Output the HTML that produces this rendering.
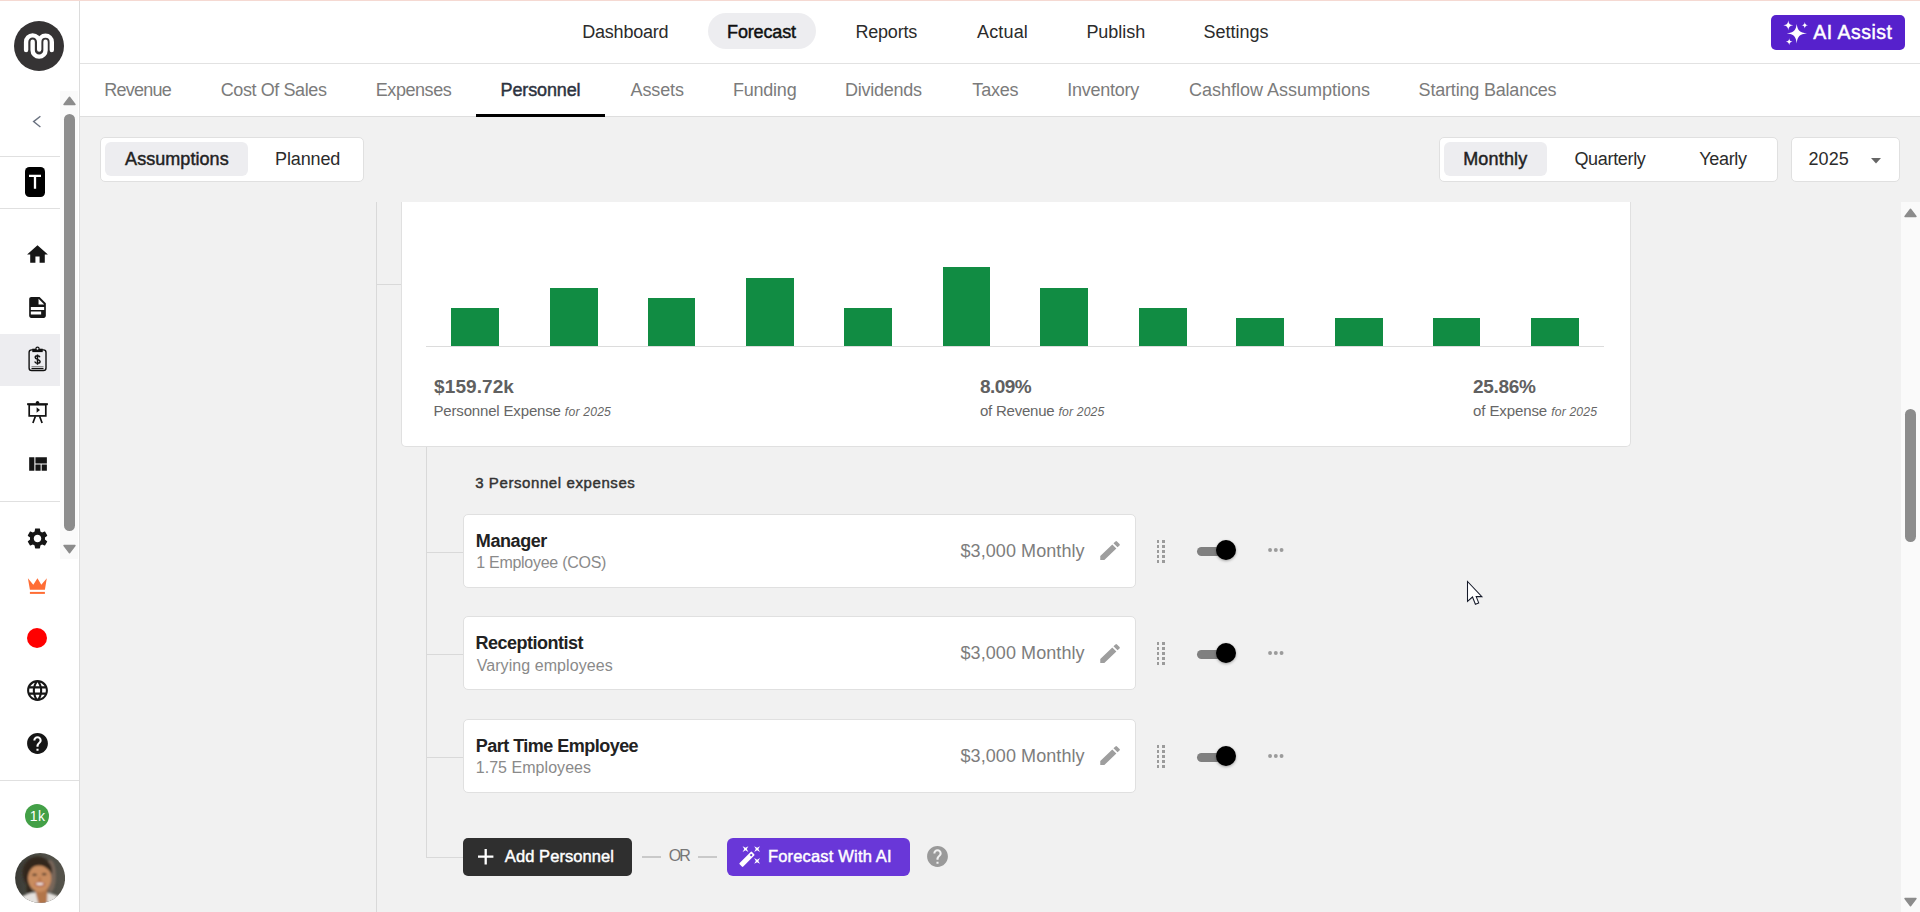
<!DOCTYPE html>
<html lang="en">
<head>
<meta charset="utf-8">
<title>Forecast - Personnel</title>
<style>
*{box-sizing:border-box;margin:0;padding:0}
html,body{width:1920px;height:912px;overflow:hidden;background:#f1f1f1;font-family:"Liberation Sans",sans-serif}
.a{position:absolute}
.t{position:absolute;white-space:pre;font-family:"Liberation Sans",sans-serif}
#page{position:relative;width:1920px;height:912px;overflow:hidden;background:#f1f1f1}
.ln{position:absolute;background:#d9d9d9}
.card{position:absolute;background:#fff;border:1px solid #e0e0e0;border-radius:5px}
.pill{position:absolute;background:#ededf0;border-radius:6px}
.bar{position:absolute;background:#118c43}
.dot{position:absolute;background:#9b9b9b}
</style>
</head>
<body>
<div id="page">

<!-- ===== top nav ===== -->
<div class="a" style="left:80px;top:0;width:1840px;height:63px;background:#fff"></div>
<div class="a" style="left:80px;top:63px;width:1840px;height:1px;background:#e2e2e2"></div>
<div class="a" style="left:80px;top:64px;width:1840px;height:52px;background:#fff"></div>
<div class="a" style="left:80px;top:116px;width:1840px;height:1px;background:#dedede"></div>
<div class="a" style="left:0;top:0;width:1920px;height:1px;background:#f5d9d2"></div>
<!-- forecast pill -->
<div class="a" style="left:708px;top:13px;width:108px;height:36px;border-radius:18px;background:#ededf0"></div>
<!-- AI assist button -->
<div class="a" style="left:1771px;top:15px;width:134px;height:35px;border-radius:5px;background:#5621cc"></div>
<svg class="a" style="left:1780px;top:17px" width="32" height="32" viewBox="0 0 32 32">
  <g fill="#fff">
  <path d="M16.7 6.9 C17.5 13 19.5 15.4 27 16.3 C19.5 17.2 17.5 19.6 16.7 26.5 C15.9 19.6 13.9 17.2 6.7 16.3 C13.9 15.4 15.9 13 16.7 6.9Z"/>
  <path d="M8.3 3.2 C8.7 6.6 9.8 7.8 13.3 8.3 C9.8 8.8 8.7 10 8.3 13.4 C7.9 10 6.8 8.8 3.3 8.3 C6.8 7.8 7.9 6.6 8.3 3.2Z"/>
  <path d="M24.8 5 C25.1 7.2 25.8 8 28.1 8.3 C25.8 8.6 25.1 9.4 24.8 11.6 C24.5 9.4 23.8 8.6 21.5 8.3 C23.8 8 24.5 7.2 24.8 5Z"/>
  <path d="M9.2 21.3 C9.5 23.6 10.2 24.4 12.6 24.7 C10.2 25 9.5 25.8 9.2 28.1 C8.9 25.8 8.2 25 5.8 24.7 C8.2 24.4 8.9 23.6 9.2 21.3Z"/>
  </g>
</svg>
<!-- personnel underline -->
<div class="a" style="left:476px;top:114px;width:129px;height:3px;background:#000"></div>

<!-- ===== toolbar ===== -->
<div class="card" style="left:100px;top:137px;width:264px;height:45px"></div>
<div class="pill" style="left:105px;top:142px;width:143px;height:34px"></div>
<div class="card" style="left:1439px;top:137px;width:339px;height:45px"></div>
<div class="pill" style="left:1444px;top:142px;width:103px;height:34px"></div>
<div class="card" style="left:1791px;top:137px;width:109px;height:45px"></div>
<svg class="a" style="left:1871px;top:157.5px" width="10" height="6" viewBox="0 0 10 6"><path d="M0 0H10L5 5.5Z" fill="#666"/></svg>

<!-- ===== tree lines ===== -->
<div class="ln" style="left:376px;top:202px;width:1px;height:710px"></div>
<div class="ln" style="left:376px;top:284px;width:25px;height:1px"></div>
<div class="ln" style="left:426px;top:447px;width:1px;height:411px"></div>
<div class="ln" style="left:426px;top:552px;width:37px;height:1px"></div>
<div class="ln" style="left:426px;top:654px;width:37px;height:1px"></div>
<div class="ln" style="left:426px;top:757px;width:37px;height:1px"></div>
<div class="ln" style="left:426px;top:857px;width:37px;height:1px"></div>

<!-- ===== chart card ===== -->
<div class="a" style="left:401px;top:202px;width:1230px;height:245px;background:#fff;border:1px solid #e0e0e0;border-top:none;border-radius:0 0 5px 5px"></div>
<div class="a" style="left:426px;top:346px;width:1178px;height:1px;background:#dcdcdc"></div>
<div class="bar" style="left:451.25px;top:308px;width:47.8px;height:38px"></div>
<div class="bar" style="left:550px;top:288px;width:47.8px;height:58px"></div>
<div class="bar" style="left:647.5px;top:298px;width:47.8px;height:48px"></div>
<div class="bar" style="left:746.25px;top:278px;width:47.8px;height:68px"></div>
<div class="bar" style="left:843.75px;top:308px;width:47.8px;height:38px"></div>
<div class="bar" style="left:942.5px;top:267px;width:47.8px;height:79px"></div>
<div class="bar" style="left:1040px;top:288px;width:47.8px;height:58px"></div>
<div class="bar" style="left:1138.75px;top:308px;width:47.8px;height:38px"></div>
<div class="bar" style="left:1236.25px;top:318px;width:47.8px;height:28px"></div>
<div class="bar" style="left:1335px;top:318px;width:47.8px;height:28px"></div>
<div class="bar" style="left:1432.5px;top:318px;width:47.8px;height:28px"></div>
<div class="bar" style="left:1531.25px;top:318px;width:47.8px;height:28px"></div>

<!-- ===== rows ===== -->
<div class="card" style="left:463px;top:513.5px;width:673px;height:74px"></div>
<svg class="a" style="left:1096.54px;top:537.80px" width="26.1" height="25.2" viewBox="0 0 24 24" preserveAspectRatio="none"><path d="M3 17.25V21h3.75L17.81 9.94l-3.75-3.75L3 17.25zM20.71 7.04a.996.996 0 0 0 0-1.41l-2.34-2.34a.996.996 0 0 0-1.41 0l-1.83 1.83 3.75 3.75 1.83-1.83z" fill="#9e9e9e"/></svg>
<div class="dot" style="left:1156.7px;top:540.20px;width:2.4px;height:2.4px"></div>
<div class="dot" style="left:1162.2px;top:540.20px;width:2.4px;height:2.4px"></div>
<div class="dot" style="left:1156.7px;top:545.23px;width:2.4px;height:2.4px"></div>
<div class="dot" style="left:1162.2px;top:545.23px;width:2.4px;height:2.4px"></div>
<div class="dot" style="left:1156.7px;top:550.26px;width:2.4px;height:2.4px"></div>
<div class="dot" style="left:1162.2px;top:550.26px;width:2.4px;height:2.4px"></div>
<div class="dot" style="left:1156.7px;top:555.29px;width:2.4px;height:2.4px"></div>
<div class="dot" style="left:1162.2px;top:555.29px;width:2.4px;height:2.4px"></div>
<div class="dot" style="left:1156.7px;top:560.32px;width:2.4px;height:2.4px"></div>
<div class="dot" style="left:1162.2px;top:560.32px;width:2.4px;height:2.4px"></div>
<div class="a" style="left:1197px;top:547.00px;width:36px;height:9px;border-radius:5px;background:#808080"></div>
<div class="a" style="left:1216px;top:539.90px;width:20.2px;height:20.2px;border-radius:50%;background:#000;box-shadow:0 1px 3px rgba(0,0,0,.35)"></div>
<svg class="a" style="left:1266px;top:546.40px" width="20" height="8" viewBox="0 0 20 8"><circle cx="4.05" cy="4" r="1.95" fill="#9b9b9b"/><circle cx="9.8" cy="4" r="1.95" fill="#9b9b9b"/><circle cx="15.55" cy="4" r="1.95" fill="#9b9b9b"/></svg>
<div class="card" style="left:463px;top:616px;width:673px;height:74px"></div>
<svg class="a" style="left:1096.54px;top:640.80px" width="26.1" height="25.2" viewBox="0 0 24 24" preserveAspectRatio="none"><path d="M3 17.25V21h3.75L17.81 9.94l-3.75-3.75L3 17.25zM20.71 7.04a.996.996 0 0 0 0-1.41l-2.34-2.34a.996.996 0 0 0-1.41 0l-1.83 1.83 3.75 3.75 1.83-1.83z" fill="#9e9e9e"/></svg>
<div class="dot" style="left:1156.7px;top:642.30px;width:2.4px;height:2.4px"></div>
<div class="dot" style="left:1162.2px;top:642.30px;width:2.4px;height:2.4px"></div>
<div class="dot" style="left:1156.7px;top:647.33px;width:2.4px;height:2.4px"></div>
<div class="dot" style="left:1162.2px;top:647.33px;width:2.4px;height:2.4px"></div>
<div class="dot" style="left:1156.7px;top:652.36px;width:2.4px;height:2.4px"></div>
<div class="dot" style="left:1162.2px;top:652.36px;width:2.4px;height:2.4px"></div>
<div class="dot" style="left:1156.7px;top:657.39px;width:2.4px;height:2.4px"></div>
<div class="dot" style="left:1162.2px;top:657.39px;width:2.4px;height:2.4px"></div>
<div class="dot" style="left:1156.7px;top:662.42px;width:2.4px;height:2.4px"></div>
<div class="dot" style="left:1162.2px;top:662.42px;width:2.4px;height:2.4px"></div>
<div class="a" style="left:1197px;top:650.00px;width:36px;height:9px;border-radius:5px;background:#808080"></div>
<div class="a" style="left:1216px;top:642.90px;width:20.2px;height:20.2px;border-radius:50%;background:#000;box-shadow:0 1px 3px rgba(0,0,0,.35)"></div>
<svg class="a" style="left:1266px;top:649.40px" width="20" height="8" viewBox="0 0 20 8"><circle cx="4.05" cy="4" r="1.95" fill="#9b9b9b"/><circle cx="9.8" cy="4" r="1.95" fill="#9b9b9b"/><circle cx="15.55" cy="4" r="1.95" fill="#9b9b9b"/></svg>
<div class="card" style="left:463px;top:718.5px;width:673px;height:74px"></div>
<svg class="a" style="left:1096.54px;top:742.90px" width="26.1" height="25.2" viewBox="0 0 24 24" preserveAspectRatio="none"><path d="M3 17.25V21h3.75L17.81 9.94l-3.75-3.75L3 17.25zM20.71 7.04a.996.996 0 0 0 0-1.41l-2.34-2.34a.996.996 0 0 0-1.41 0l-1.83 1.83 3.75 3.75 1.83-1.83z" fill="#9e9e9e"/></svg>
<div class="dot" style="left:1156.7px;top:745.30px;width:2.4px;height:2.4px"></div>
<div class="dot" style="left:1162.2px;top:745.30px;width:2.4px;height:2.4px"></div>
<div class="dot" style="left:1156.7px;top:750.33px;width:2.4px;height:2.4px"></div>
<div class="dot" style="left:1162.2px;top:750.33px;width:2.4px;height:2.4px"></div>
<div class="dot" style="left:1156.7px;top:755.36px;width:2.4px;height:2.4px"></div>
<div class="dot" style="left:1162.2px;top:755.36px;width:2.4px;height:2.4px"></div>
<div class="dot" style="left:1156.7px;top:760.39px;width:2.4px;height:2.4px"></div>
<div class="dot" style="left:1162.2px;top:760.39px;width:2.4px;height:2.4px"></div>
<div class="dot" style="left:1156.7px;top:765.42px;width:2.4px;height:2.4px"></div>
<div class="dot" style="left:1162.2px;top:765.42px;width:2.4px;height:2.4px"></div>
<div class="a" style="left:1197px;top:753.00px;width:36px;height:9px;border-radius:5px;background:#808080"></div>
<div class="a" style="left:1216px;top:745.90px;width:20.2px;height:20.2px;border-radius:50%;background:#000;box-shadow:0 1px 3px rgba(0,0,0,.35)"></div>
<svg class="a" style="left:1266px;top:751.50px" width="20" height="8" viewBox="0 0 20 8"><circle cx="4.05" cy="4" r="1.95" fill="#9b9b9b"/><circle cx="9.8" cy="4" r="1.95" fill="#9b9b9b"/><circle cx="15.55" cy="4" r="1.95" fill="#9b9b9b"/></svg>

<!-- ===== buttons ===== -->
<div class="a" style="left:463px;top:838px;width:169px;height:38px;border-radius:5px;background:#2f2f2f"></div>
<svg class="a" style="left:478px;top:849px" width="16" height="16" viewBox="0 0 16 16"><path d="M7.7 0V15.4M0 7.7H15.4" stroke="#fff" stroke-width="2.3" fill="none"/></svg>
<div class="a" style="left:642px;top:856px;width:19px;height:2px;background:#c9c9c9"></div>
<div class="a" style="left:698px;top:856px;width:19px;height:2px;background:#c9c9c9"></div>
<div class="a" style="left:727px;top:838px;width:183px;height:38px;border-radius:6px;background:#6937d8"></div>
<svg class="a" style="left:736px;top:844px" width="28" height="28" viewBox="736 844 28 28"><g transform="rotate(-45 746.95 859.25)"><rect x="738.2" y="856.7" width="17.5" height="5.1" rx="1" fill="#fff"/><rect x="751.9" y="858.3" width="2" height="2" fill="#6937d8"/></g><path d="M742.6 846.2L745.5 847.85L748.4 846.2L746.75 849.1L748.4 852.0L745.5 850.35L742.6 852.0L744.25 849.1Z" fill="#fff"/><path d="M754.2 846.2L757.1 847.85L760.0 846.2L758.35 849.1L760.0 852.0L757.1 850.35L754.2 852.0L755.85 849.1Z" fill="#fff"/><path d="M754.2 858.0L757.1 859.65L760.0 858.0L758.35 860.9L760.0 863.8L757.1 862.15L754.2 863.8L755.85 860.9Z" fill="#fff"/></svg>
<svg class="a" style="left:925.00px;top:843.90px" width="25" height="25" viewBox="0 0 24 24"><path d="M12 2C6.48 2 2 6.48 2 12s4.48 10 10 10 10-4.48 10-10S17.52 2 12 2zm1 17h-2v-2h2v2zm2.07-7.75l-.9.92C13.45 12.9 13 13.5 13 15h-2v-.5c0-1.1.45-2.1 1.17-2.83l1.24-1.26c.37-.36.59-.86.59-1.41 0-1.1-.9-2-2-2s-2 .9-2 2H8c0-2.21 1.79-4 4-4s4 1.79 4 4c0 .88-.36 1.68-.93 2.25z" fill="#9a9a9a" fill-rule="evenodd"/></svg>

<!-- ===== main scrollbar ===== -->
<div class="a" style="left:1901px;top:202px;width:19px;height:710px;background:#fafafa"></div>
<div class="a" style="left:1905px;top:409px;width:11px;height:133px;border-radius:6px;background:#8c8c8c"></div>
<svg class="a" style="left:1904px;top:208px" width="13" height="10" viewBox="0 0 13 10"><path d="M6.5 1.2L12 8.5H1Z" fill="#8c8c8c" stroke="#8c8c8c" stroke-width="1.4" stroke-linejoin="round"/></svg>
<svg class="a" style="left:1904px;top:897px" width="13" height="10" viewBox="0 0 13 10"><path d="M6.5 8.8L12 1.5H1Z" fill="#8c8c8c" stroke="#8c8c8c" stroke-width="1.4" stroke-linejoin="round"/></svg>

<!-- ===== sidebar ===== -->
<div class="a" style="left:0;top:1px;width:79px;height:911px;background:#fff"></div>
<div class="a" style="left:79px;top:1px;width:1px;height:911px;background:#dcdcdc"></div>
<div class="a" style="left:14px;top:21px;width:50px;height:50px;border-radius:50%;background:#353334"></div>
<svg class="a" style="left:14px;top:21px" width="50" height="50" viewBox="14 21 50 50"><g fill="none" stroke="#fff" stroke-width="4.4" stroke-linecap="round"><path d="M26.1 50 V41.9 A6.55 6.55 0 0 1 39.2 41.9 V49.6 M39.2 41.9 A6.3 6.3 0 0 1 51.8 41.9 V50"/><path d="M32.65 41.7 V50.2 A6.45 6.45 0 0 0 45.55 50.2 V41.7"/></g></svg>
<div class="a" style="left:60px;top:91px;width:18px;height:468px;background:#fafafa"></div>
<div class="a" style="left:64px;top:114px;width:11px;height:417px;border-radius:6px;background:#8c8c8c"></div>
<svg class="a" style="left:63px;top:96px" width="13" height="10" viewBox="0 0 13 10"><path d="M6.5 1.2L12 8.5H1Z" fill="#8c8c8c" stroke="#8c8c8c" stroke-width="1.4" stroke-linejoin="round"/></svg>
<svg class="a" style="left:63px;top:544px" width="13" height="10" viewBox="0 0 13 10"><path d="M6.5 8.8L12 1.5H1Z" fill="#8c8c8c" stroke="#8c8c8c" stroke-width="1.4" stroke-linejoin="round"/></svg>
<div class="a" style="left:0;top:156px;width:60px;height:1px;background:#e0e0e0"></div>
<div class="a" style="left:0;top:208px;width:60px;height:1px;background:#e0e0e0"></div>
<div class="a" style="left:0;top:501px;width:60px;height:1px;background:#e0e0e0"></div>
<div class="a" style="left:0;top:780px;width:79px;height:1px;background:#e0e0e0"></div>
<svg class="a" style="left:30px;top:112px" width="16" height="20" viewBox="30 112 16 20"><path d="M40.4 116.2L33.6 121.6L40.4 127" fill="none" stroke="#6a7280" stroke-width="1.4"/></svg>
<div class="a" style="left:25px;top:167px;width:20px;height:30px;border-radius:4.5px;background:#000"></div>
<svg class="a" style="left:25px;top:167px" width="20" height="30" viewBox="25 167 20 30"><path d="M29 175.9H41M35 175.9V188.7" stroke="#fff" stroke-width="2.3" fill="none"/></svg>
<div class="a" style="left:0;top:334px;width:60px;height:52px;background:#ededf0"></div>
<svg class="a" style="left:24.90px;top:242.00px" width="25" height="25" viewBox="0 0 24 24"><path d="M10 20v-6h4v6h5v-8h3L12 3 2 12h3v8z" fill="#161616" fill-rule="evenodd"/></svg>
<svg class="a" style="left:25.10px;top:295.10px" width="25" height="25" viewBox="0 0 24 24"><path d="M14 2H6c-1.1 0-1.99.9-1.99 2L4 20c0 1.1.89 2 1.99 2H18c1.1 0 2-.9 2-2V8l-6-6zM15.5 18.6H5.6v-2.7h9.9v2.7zM18.4 14.3H5.6v-2.8h12.8v2.8zM13 9V3.5L18.5 9H13z" fill="#161616" fill-rule="evenodd"/></svg>
<svg class="a" style="left:25px;top:345px" width="26" height="30" viewBox="25 345 26 30"><rect x="29.1" y="349.9" width="16.9" height="20.6" rx="2.6" fill="none" stroke="#111" stroke-width="1.4"/><rect x="32.3" y="348.7" width="10.4" height="3.4" fill="#111"/><circle cx="37.5" cy="348.7" r="1.6" fill="#ededf0" stroke="#111" stroke-width="1.2"/><path d="M31.5 366.5H43.5" stroke="#777" stroke-width="0.8"/><path d="M31.5 368.5H43.5" stroke="#111" stroke-width="1.3"/><path d="M39.9 357.3C39.6 356.2 38.7 355.8 37.5 355.8C36.2 355.8 35.2 356.4 35.2 357.5C35.2 358.7 36.3 359.1 37.6 359.4C39 359.8 40.1 360.2 40.1 361.5C40.1 362.7 39 363.3 37.6 363.3C36.2 363.3 35.1 362.7 34.9 361.5M37.5 354.4V364.8" fill="none" stroke="#111" stroke-width="1.45"/></svg>
<svg class="a" style="left:25px;top:399px" width="26" height="26" viewBox="25 399 26 26"><path d="M27.1 404.2H47.9" stroke="#111" stroke-width="2"/><circle cx="37.5" cy="402.6" r="1.7" fill="#111"/><rect x="29.2" y="404.6" width="16.6" height="11.3" fill="none" stroke="#111" stroke-width="1.7"/><path d="M36.6 407.3V412.7L40 410Z" fill="#111"/><path d="M35.4 416.3L32.9 423M39.6 416.3L42.1 423" stroke="#111" stroke-width="1.7" fill="none"/></svg>
<svg class="a" style="left:25.10px;top:451.90px" width="25" height="25" viewBox="0 0 24 24"><path d="M10 18h5v-6h-5v6zm-6 0h5V5H4v13zm12 0h5v-6h-5v6zM10 5v6h11V5H10z" fill="#161616" fill-rule="evenodd"/></svg>
<svg class="a" style="left:24.95px;top:525.95px" width="25" height="25" viewBox="0 0 24 24"><path d="M19.14 12.94c.04-.3.06-.61.06-.94 0-.32-.02-.64-.07-.94l2.03-1.58c.18-.14.23-.41.12-.61l-1.92-3.32c-.12-.22-.37-.29-.59-.22l-2.39.96c-.5-.38-1.03-.7-1.62-.94l-.36-2.54c-.04-.24-.24-.41-.48-.41h-3.84c-.24 0-.43.17-.47.41l-.36 2.54c-.59.24-1.13.57-1.62.94l-2.39-.96c-.22-.08-.47 0-.59.22L2.74 8.87c-.12.21-.08.47.12.61l2.03 1.58c-.05.3-.09.63-.09.94s.02.64.07.94l-2.03 1.58c-.18.14-.23.41-.12.61l1.92 3.32c.12.22.37.29.59.22l2.39-.96c.5.38 1.03.7 1.62.94l.36 2.54c.05.24.24.41.48.41h3.84c.24 0 .44-.17.47-.41l.36-2.54c.59-.24 1.13-.56 1.62-.94l2.39.96c.22.08.47 0 .59-.22l1.92-3.32c.12-.22.07-.47-.12-.61l-2.01-1.58zM12 15.6c-1.98 0-3.6-1.62-3.6-3.6s1.62-3.6 3.6-3.6 3.6 1.62 3.6 3.6-1.62 3.6-3.6 3.6z" fill="#161616" fill-rule="evenodd"/></svg>
<svg class="a" style="left:26px;top:576px" width="24" height="20" viewBox="26 576 24 20"><path d="M27.9 578.3L33.3 584.7L37.45 578.3L41.3 584.7L46.8 578.3L44.9 589.7H29.9Z" fill="#ff6d35"/><rect x="29.9" y="591.9" width="15" height="2" fill="#ff6d35"/></svg>
<div class="a" style="left:27px;top:628.3px;width:20px;height:20px;border-radius:50%;background:#ff0000"></div>
<svg class="a" style="left:25.00px;top:677.80px" width="25" height="25" viewBox="0 0 24 24"><path d="M11.99 2C6.47 2 2 6.48 2 12s4.47 10 9.99 10C17.52 22 22 17.52 22 12S17.52 2 11.99 2zm6.93 6h-2.95c-.32-1.25-.78-2.45-1.38-3.56 1.84.63 3.37 1.91 4.33 3.56zM12 4.04c.83 1.2 1.48 2.53 1.91 3.96h-3.82c.43-1.43 1.08-2.76 1.91-3.96zM4.26 14C4.1 13.36 4 12.69 4 12s.1-1.36.26-2h3.38c-.08.66-.14 1.32-.14 2 0 .68.06 1.34.14 2H4.26zm.82 2h2.95c.32 1.25.78 2.45 1.38 3.56-1.84-.63-3.37-1.9-4.33-3.56zm2.95-8H5.08c.96-1.66 2.49-2.93 4.33-3.56C8.81 5.55 8.35 6.75 8.03 8zM12 19.96c-.83-1.2-1.48-2.53-1.91-3.96h3.82c-.43 1.43-1.08 2.76-1.91 3.96zM14.34 14H9.66c-.09-.66-.16-1.32-.16-2 0-.68.07-1.35.16-2h4.68c.09.65.16 1.32.16 2 0 .68-.07 1.34-.16 2zm.25 5.56c.6-1.11 1.06-2.31 1.38-3.56h2.95c-.96 1.65-2.49 2.93-4.33 3.56zM16.36 14c.08-.66.14-1.32.14-2 0-.68-.06-1.34-.14-2h3.38c.16.64.26 1.31.26 2s-.1 1.36-.26 2h-3.38z" fill="#161616" fill-rule="evenodd"/></svg>
<svg class="a" style="left:25.00px;top:731.10px" width="25" height="25" viewBox="0 0 24 24"><path d="M12 2C6.48 2 2 6.48 2 12s4.48 10 10 10 10-4.48 10-10S17.52 2 12 2zm1 17h-2v-2h2v2zm2.07-7.75l-.9.92C13.45 12.9 13 13.5 13 15h-2v-.5c0-1.1.45-2.1 1.17-2.83l1.24-1.26c.37-.36.59-.86.59-1.41 0-1.1-.9-2-2-2s-2 .9-2 2H8c0-2.21 1.79-4 4-4s4 1.79 4 4c0 .88-.36 1.68-.93 2.25z" fill="#161616" fill-rule="evenodd"/></svg>
<div class="a" style="left:25.2px;top:804.1px;width:24.2px;height:24.2px;border-radius:50%;background:#43a047"></div>
<svg class="a" style="left:15px;top:853px" width="50" height="50" viewBox="15 853 50 50"><defs><clipPath id="avc"><circle cx="40.1" cy="878" r="25"/></clipPath><filter id="avb" x="-20%" y="-20%" width="140%" height="140%"><feGaussianBlur stdDeviation="0.9"/></filter><linearGradient id="avg" x1="0" x2="1" y1="0" y2="0"><stop offset="0" stop-color="#3a3a35"/><stop offset="0.45" stop-color="#4c4c45"/><stop offset="1" stop-color="#55534b"/></linearGradient></defs><g clip-path="url(#avc)"><rect x="15" y="853" width="50" height="50" fill="url(#avg)"/><g filter="url(#avb)"><ellipse cx="37.5" cy="873" rx="15" ry="16.5" fill="#33271f"/><ellipse cx="50.5" cy="876" rx="5.5" ry="16" fill="#78665a"/><path d="M27 884C26 890 27 894 29 897L34 893Z" fill="#33271f"/><ellipse cx="40" cy="907" rx="26" ry="15" fill="#e4e1de"/><path d="M34.5 888H47.5L47 904H38.5Z" fill="#b27449"/><ellipse cx="39.6" cy="878.3" rx="11.6" ry="13.6" fill="#c98c5e"/><path d="M26 872C27 861 36 857 43 859C50 861 53 867 52 874C48 868 43 865 38.5 865.5C33 866 29 869 26 872Z" fill="#33271f"/><ellipse cx="34.6" cy="874.8" rx="2.4" ry="1" fill="#3a2a20"/><ellipse cx="44.2" cy="874.3" rx="2.4" ry="1" fill="#3a2a20"/><ellipse cx="39.8" cy="879.5" rx="1.6" ry="2.2" fill="#b8764c"/><ellipse cx="39.8" cy="884.2" rx="4.9" ry="2.1" fill="#a3473b"/><ellipse cx="39.8" cy="884" rx="3.9" ry="1.15" fill="#f5ece6"/></g></g></svg>

<!-- ===== texts ===== -->
<span class="t" style="left:582.19px;top:22.96px;font-size:18px;line-height:18px;font-weight:400;color:#2b2b2b;letter-spacing:-0.204px;">Dashboard</span>
<span class="t" style="left:727.11px;top:22.96px;font-size:18px;line-height:18px;font-weight:400;color:#111;letter-spacing:-0.164px;-webkit-text-stroke:0.45px #111;">Forecast</span>
<span class="t" style="left:855.39px;top:22.96px;font-size:18px;line-height:18px;font-weight:400;color:#2b2b2b;letter-spacing:-0.188px;">Reports</span>
<span class="t" style="left:976.98px;top:22.96px;font-size:18px;line-height:18px;font-weight:400;color:#2b2b2b;letter-spacing:0.164px;">Actual</span>
<span class="t" style="left:1086.39px;top:22.96px;font-size:18px;line-height:18px;font-weight:400;color:#2b2b2b;letter-spacing:-0.044px;">Publish</span>
<span class="t" style="left:1203.52px;top:22.96px;font-size:18px;line-height:18px;font-weight:400;color:#2b2b2b;letter-spacing:-0.008px;">Settings</span>
<span class="t" style="left:1813.14px;top:22.79px;font-size:19.5px;line-height:19.5px;font-weight:400;color:#fff;letter-spacing:0.516px;-webkit-text-stroke:0.45px #fff;">AI Assist</span>
<span class="t" style="left:104.24px;top:80.96px;font-size:18px;line-height:18px;font-weight:400;color:#7b7b7b;letter-spacing:-0.760px;">Revenue</span>
<span class="t" style="left:220.69px;top:80.96px;font-size:18px;line-height:18px;font-weight:400;color:#7b7b7b;letter-spacing:-0.403px;">Cost Of Sales</span>
<span class="t" style="left:375.79px;top:80.96px;font-size:18px;line-height:18px;font-weight:400;color:#7b7b7b;letter-spacing:-0.447px;">Expenses</span>
<span class="t" style="left:500.61px;top:80.96px;font-size:18px;line-height:18px;font-weight:400;color:#2d3340;letter-spacing:-0.140px;-webkit-text-stroke:0.45px #2d3340;">Personnel</span>
<span class="t" style="left:630.58px;top:80.96px;font-size:18px;line-height:18px;font-weight:400;color:#7b7b7b;letter-spacing:-0.122px;">Assets</span>
<span class="t" style="left:732.89px;top:80.96px;font-size:18px;line-height:18px;font-weight:400;color:#7b7b7b;letter-spacing:-0.208px;">Funding</span>
<span class="t" style="left:845.09px;top:80.96px;font-size:18px;line-height:18px;font-weight:400;color:#7b7b7b;letter-spacing:-0.255px;">Dividends</span>
<span class="t" style="left:972.35px;top:80.96px;font-size:18px;line-height:18px;font-weight:400;color:#7b7b7b;letter-spacing:-0.212px;">Taxes</span>
<span class="t" style="left:1067.14px;top:80.96px;font-size:18px;line-height:18px;font-weight:400;color:#7b7b7b;letter-spacing:-0.234px;">Inventory</span>
<span class="t" style="left:1188.99px;top:80.96px;font-size:18px;line-height:18px;font-weight:400;color:#7b7b7b;letter-spacing:-0.006px;">Cashflow Assumptions</span>
<span class="t" style="left:1418.62px;top:80.96px;font-size:18px;line-height:18px;font-weight:400;color:#7b7b7b;letter-spacing:-0.193px;">Starting Balances</span>
<span class="t" style="left:125.09px;top:149.76px;font-size:18px;line-height:18px;font-weight:400;color:#222;letter-spacing:0.057px;-webkit-text-stroke:0.45px #222;">Assumptions</span>
<span class="t" style="left:275.09px;top:149.76px;font-size:18px;line-height:18px;font-weight:400;color:#2b2b2b;letter-spacing:-0.142px;">Planned</span>
<span class="t" style="left:1463.21px;top:149.76px;font-size:18px;line-height:18px;font-weight:400;color:#222;letter-spacing:0.175px;-webkit-text-stroke:0.45px #222;">Monthly</span>
<span class="t" style="left:1574.42px;top:149.76px;font-size:18px;line-height:18px;font-weight:400;color:#2b2b2b;letter-spacing:-0.322px;">Quarterly</span>
<span class="t" style="left:1699.31px;top:149.76px;font-size:18px;line-height:18px;font-weight:400;color:#2b2b2b;letter-spacing:-0.333px;">Yearly</span>
<span class="t" style="left:1808.41px;top:149.76px;font-size:18px;line-height:18px;font-weight:400;color:#2b2b2b;letter-spacing:0.102px;">2025</span>
<span class="t" style="left:434.12px;top:376.52px;font-size:19px;line-height:19px;font-weight:700;color:#606060;letter-spacing:0.083px;">$159.72k</span>
<span class="t" style="left:433.45px;top:403.40px;font-size:15px;line-height:15px;font-weight:400;color:#666;letter-spacing:-0.162px;">Personnel Expense</span>
<span class="t" style="left:564.87px;top:405.77px;font-size:12.2px;line-height:12.2px;font-weight:400;color:#666;letter-spacing:0.187px;font-style:italic;">for 2025</span>
<span class="t" style="left:979.94px;top:376.52px;font-size:19px;line-height:19px;font-weight:700;color:#606060;letter-spacing:-0.518px;">8.09%</span>
<span class="t" style="left:979.94px;top:403.40px;font-size:15px;line-height:15px;font-weight:400;color:#666;letter-spacing:-0.227px;">of Revenue</span>
<span class="t" style="left:1058.47px;top:405.77px;font-size:12.2px;line-height:12.2px;font-weight:400;color:#666;letter-spacing:0.158px;font-style:italic;">for 2025</span>
<span class="t" style="left:1473.09px;top:376.52px;font-size:19px;line-height:19px;font-weight:700;color:#606060;letter-spacing:-0.337px;">25.86%</span>
<span class="t" style="left:1473.09px;top:403.40px;font-size:15px;line-height:15px;font-weight:400;color:#666;letter-spacing:-0.104px;">of Expense</span>
<span class="t" style="left:1551.17px;top:405.77px;font-size:12.2px;line-height:12.2px;font-weight:400;color:#666;letter-spacing:0.158px;font-style:italic;">for 2025</span>
<span class="t" style="left:475.16px;top:475.30px;font-size:15px;line-height:15px;font-weight:400;color:#333;letter-spacing:0.592px;-webkit-text-stroke:0.45px #333;">3 Personnel expenses</span>
<span class="t" style="left:475.81px;top:532.01px;font-size:18px;line-height:18px;font-weight:700;color:#222;letter-spacing:-0.414px;">Manager</span>
<span class="t" style="left:476.21px;top:554.71px;font-size:16px;line-height:16px;font-weight:400;color:#8a8a8a;letter-spacing:-0.271px;">1 Employee (COS)</span>
<span class="t" style="left:475.51px;top:634.46px;font-size:18px;line-height:18px;font-weight:700;color:#222;letter-spacing:-0.507px;">Receptiontist</span>
<span class="t" style="left:476.67px;top:657.76px;font-size:16px;line-height:16px;font-weight:400;color:#8a8a8a;letter-spacing:0.068px;">Varying employees</span>
<span class="t" style="left:475.71px;top:736.96px;font-size:18px;line-height:18px;font-weight:700;color:#222;letter-spacing:-0.518px;">Part Time Employee</span>
<span class="t" style="left:475.71px;top:759.76px;font-size:16px;line-height:16px;font-weight:400;color:#8a8a8a;letter-spacing:0.046px;">1.75 Employees</span>
<span class="t" style="left:960.52px;top:541.76px;font-size:18px;line-height:18px;font-weight:400;color:#7d7d7d;letter-spacing:0.078px;">$3,000 Monthly</span>
<span class="t" style="left:960.52px;top:644.26px;font-size:18px;line-height:18px;font-weight:400;color:#7d7d7d;letter-spacing:0.078px;">$3,000 Monthly</span>
<span class="t" style="left:960.52px;top:746.76px;font-size:18px;line-height:18px;font-weight:400;color:#7d7d7d;letter-spacing:0.078px;">$3,000 Monthly</span>
<span class="t" style="left:504.84px;top:848.03px;font-size:16.5px;line-height:16.5px;font-weight:400;color:#fff;letter-spacing:0.071px;-webkit-text-stroke:0.45px #fff;">Add Personnel</span>
<span class="t" style="left:668.63px;top:848.46px;font-size:16px;line-height:16px;font-weight:400;color:#777;letter-spacing:-1.753px;">OR</span>
<span class="t" style="left:767.97px;top:848.03px;font-size:16.5px;line-height:16.5px;font-weight:400;color:#fff;letter-spacing:0.174px;-webkit-text-stroke:0.45px #fff;">Forecast With AI</span>
<span class="t" style="left:29.72px;top:809.15px;font-size:14px;line-height:14px;font-weight:400;color:#fff;letter-spacing:0.439px;">1k</span>

<!-- cursor -->
<svg class="a" style="left:1466px;top:580px" width="18" height="28" viewBox="0 0 18 28"><path d="M1.5 1.5V21.4L6.5 17L9.4 24.2L12.7 22.9L10.2 16.6H15.9Z" fill="#fff" stroke="#161b2a" stroke-width="1.05" stroke-linejoin="miter"/></svg>
</div>
</body>
</html>
